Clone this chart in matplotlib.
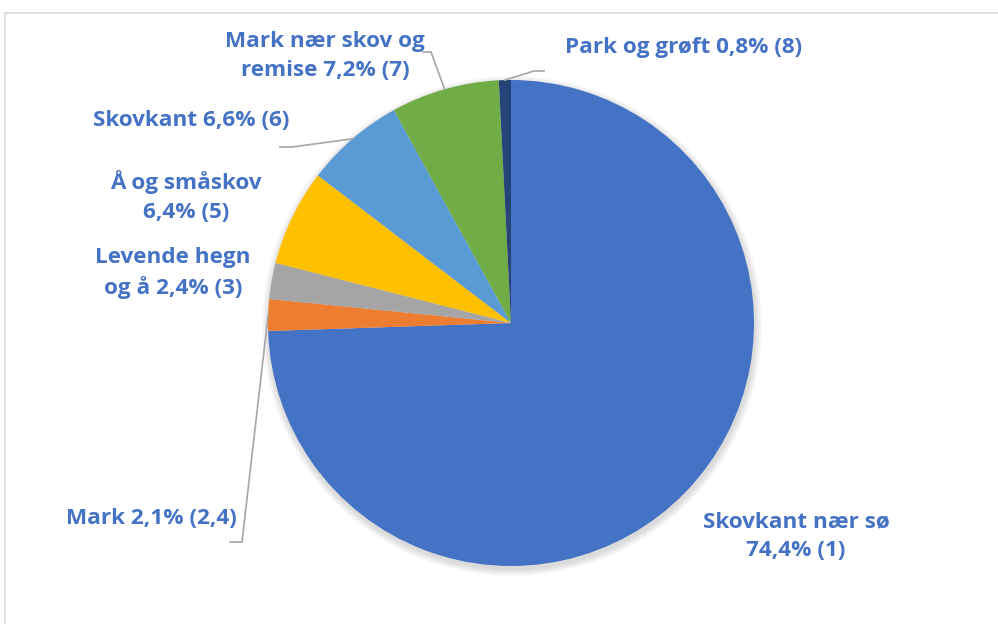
import numpy as np
import matplotlib
matplotlib.use("Agg")
import matplotlib.pyplot as plt
from matplotlib.patches import Circle

# data (clockwise from 12 o'clock)
labels = ["Skovkant nær sø\n74,4% (1)", "Mark 2,1% (2,4)", "Levende hegn\nog å 2,4% (3)",
          "Å og småskov\n6,4% (5)", "Skovkant 6,6% (6)", "Mark nær skov og\nremise 7,2% (7)",
          "Park og grøft 0,8% (8)"]
values = [74.4, 2.1, 2.4, 6.4, 6.6, 7.2, 0.8]
colors = ["#4472C4", "#ED7D31", "#A5A5A5", "#FFC000", "#5B9BD5", "#70AD47", "#264478"]

W, H = 998, 624
plt.rcParams['font.family'] = ['Open Sans', 'DejaVu Sans']

fig = plt.figure(figsize=(W / 100, H / 100), dpi=100)
ax = fig.add_axes([0, 0, 1, 1])

def py(y):  # pixel y (from top) -> axes y
    return H - y

cx, cy, r = 511, py(323), 243

# soft shadow
for i in range(6):
    ax.add_patch(Circle((cx + 1, cy - 3), r + 1 + i * 1.2, color="black", alpha=0.025, lw=0, zorder=1))

wedges, _ = ax.pie(values, colors=colors, startangle=90, counterclock=False,
                   center=(cx, cy), radius=r, frame=True,
                   wedgeprops=dict(linewidth=0, zorder=2))
ax.set_xlim(0, W)
ax.set_ylim(0, H)
ax.set_aspect("auto")
ax.axis("off")

tc = "#4472C4"
fs = 16.2
txt = dict(color=tc, fontsize=fs, fontweight="bold", linespacing=1.5, zorder=5)

# label positions (pixel coords), alignment, leader elbow points
layout = [
    (796, 536, "center", None),
    (237, 518, "right", [(230, 542), (242, 542)]),
    (173, 273, "center", None),
    (186, 197, "center", None),
    (289, 120, "right", [(280, 147), (292, 147)]),
    (325, 56, "center", [(423, 52), (431, 52)]),
    (565, 47, "left", [(544, 71), (534, 71)]),
]

for w, lab, (x, y, ha, pts) in zip(wedges, labels, layout):
    ax.text(x, py(y), lab, ha=ha, va="center", **txt)
    if pts:
        mid = np.deg2rad((w.theta1 + w.theta2) / 2)
        ex, ey = cx + r * np.cos(mid), cy + r * np.sin(mid)
        xs = [p[0] for p in pts] + [ex]
        ys = [py(p[1]) for p in pts] + [ey]
        ax.plot(xs, ys, color="#A6A6A6", lw=1.2, zorder=4)

# chart border
ax.plot([5.5, 5.5, W], [0, py(12.5), py(12.5)], color="#D9D9D9", lw=1.2, zorder=0)

fig.savefig("out.png", dpi=100)
